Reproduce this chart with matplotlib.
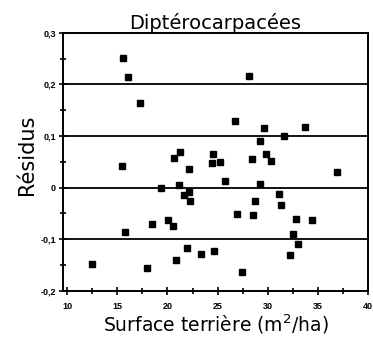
import matplotlib
matplotlib.use("Agg")
import matplotlib.pyplot as plt
from matplotlib.ticker import MultipleLocator, FuncFormatter

# Data (surface terrière m2/ha, résidus)
surface = [15.60, 16.06, 17.24, 28.15, 26.76, 29.63, 33.73, 31.64, 29.21, 21.29,
           20.69, 24.52, 24.44, 25.27, 29.82, 28.45, 30.31, 15.50, 22.14, 36.91,
           25.73, 21.19, 29.23, 19.37, 22.11, 21.64, 22.22, 28.77, 31.11, 31.34,
           26.89, 28.50, 32.83, 34.45, 20.09, 18.43, 20.56, 15.77, 32.56, 33.00,
           21.99, 23.35, 24.65, 20.81, 32.25, 12.45, 17.98, 27.41]
residus = [0.252, 0.215, 0.164, 0.216, 0.129, 0.115, 0.118, 0.100, 0.090, 0.070,
           0.057, 0.066, 0.047, 0.049, 0.065, 0.056, 0.052, 0.042, 0.036, 0.031,
           0.012, 0.006, 0.007, 0.000, -0.008, -0.014, -0.025, -0.026, -0.013, -0.034,
           -0.051, -0.053, -0.060, -0.062, -0.063, -0.070, -0.075, -0.086, -0.089, -0.109,
           -0.117, -0.129, -0.122, -0.140, -0.130, -0.147, -0.155, -0.163]
grid_levels = [0.2, 0.1, 0.0, -0.1]

fig = plt.figure(figsize=(3.73, 3.39), dpi=100)
ax = fig.add_axes([0.169, 0.142, 0.818, 0.761])

for g in grid_levels:
    ax.axhline(g, color="black", lw=1.3, zorder=1)

ax.plot(surface, residus, linestyle="none", marker="s", ms=3.8,
        color="black", zorder=3)

ax.set_xlim(9.6, 40)
ax.set_ylim(-0.2, 0.3)

ax.xaxis.set_major_locator(MultipleLocator(5))
ax.xaxis.set_minor_locator(MultipleLocator(2.5))
ax.yaxis.set_major_locator(MultipleLocator(0.1))
ax.yaxis.set_minor_locator(MultipleLocator(0.05))

def yfmt(v, pos):
    if abs(v) < 1e-9:
        return "0"
    return ("%.1f" % v).replace(".", ",")

ax.yaxis.set_major_formatter(FuncFormatter(yfmt))
ax.xaxis.set_major_formatter(FuncFormatter(lambda v, p: "%d" % round(v)))

ax.tick_params(axis="both", which="both", direction="inout", width=1.2)
ax.tick_params(axis="both", which="major", length=6)
ax.tick_params(axis="both", which="minor", length=4)
ax.tick_params(axis="x", which="major", pad=5)
ax.tick_params(axis="y", which="major", pad=2)

for lab in ax.get_xticklabels() + ax.get_yticklabels():
    lab.set_fontfamily("Liberation Sans")
    lab.set_fontweight("bold")
    lab.set_fontsize(6.5)

for s in ax.spines.values():
    s.set_linewidth(1.4)

ax.set_title("Diptérocarpacées", fontsize=14, family="DejaVu Sans",
             pad=1)
ax.set_ylabel("Résidus", fontsize=15, family="DejaVu Sans")
ax.yaxis.set_label_coords(-0.085, 0.527)
ax.set_xlabel("Surface terrière (m$^2$/ha)", fontsize=13.5, family="DejaVu Sans",
              labelpad=1)

fig.savefig("out.png", dpi=100)
